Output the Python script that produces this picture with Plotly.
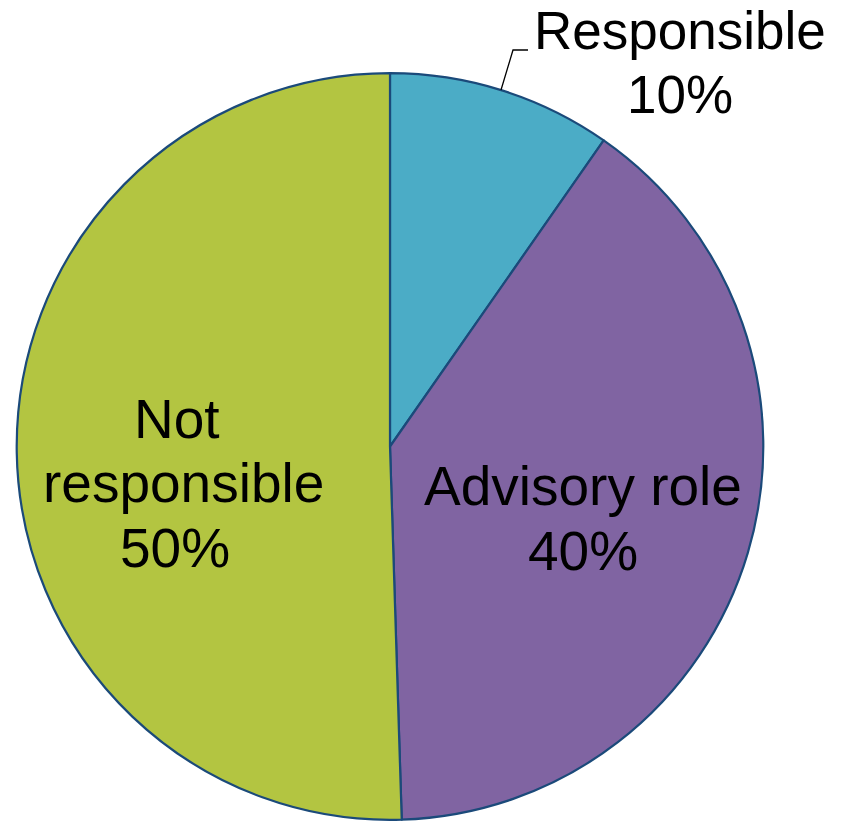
import plotly.graph_objects as go

labels = ["Responsible", "Advisory role", "Not<br>responsible"]
values = [9.7, 39.8, 50.5]
colors = ["#4BACC6", "#8064A2", "#B3C541"]

W, H = 841, 822


def px(x):
    return x / W


def py(y):
    return 1 - y / H


total = sum(values)
label_lines = [lab.split("<br>") + [f"{round(100 * v / total):.0f}%"]
               for lab, v in zip(labels, values)]

fig = go.Figure(go.Pie(
    labels=labels,
    values=values,
    sort=False,
    direction="clockwise",
    rotation=0,
    textinfo="none",
    hoverinfo="label+percent",
    marker=dict(colors=colors, line=dict(color="#1B4A7A", width=2.2)),
    domain=dict(x=[px(16.7), px(763.3)], y=[py(820.5), py(72.5)]),
    showlegend=False,
))

# per-line text centres (reference pixel coordinates) and font sizes
line_pos = [
    [(680, 30.5), (680, 94.6)],
    [(583, 486), (583, 551)],
    [(177, 419), (183, 483), (175, 548)],
]
line_size = [53, 55, 55]
for lines, positions, size in zip(label_lines, line_pos, line_size):
    for txt, (x, y) in zip(lines, positions):
        fig.add_annotation(
            x=px(x), y=py(y), xref="paper", yref="paper",
            text=txt, showarrow=False, xanchor="center", yanchor="middle",
            borderpad=0, borderwidth=0,
            font=dict(family="Liberation Sans, Arial, sans-serif", size=size, color="#000000"),
        )

# leader line for the outside label
pts = [(501, 90), (513, 50), (528, 50)]
path = "M " + " L ".join(f"{px(x)},{py(y)}" for x, y in pts)
fig.add_shape(type="path", path=path, xref="paper", yref="paper",
              line=dict(color="#000000", width=1.3))

fig.update_layout(
    width=W, height=H,
    margin=dict(l=0, r=0, t=0, b=0),
    paper_bgcolor="white",
    plot_bgcolor="white",
)

fig.write_html("out.html", config={"displayModeBar": False},
               post_script="document.body.style.margin='0px';")
